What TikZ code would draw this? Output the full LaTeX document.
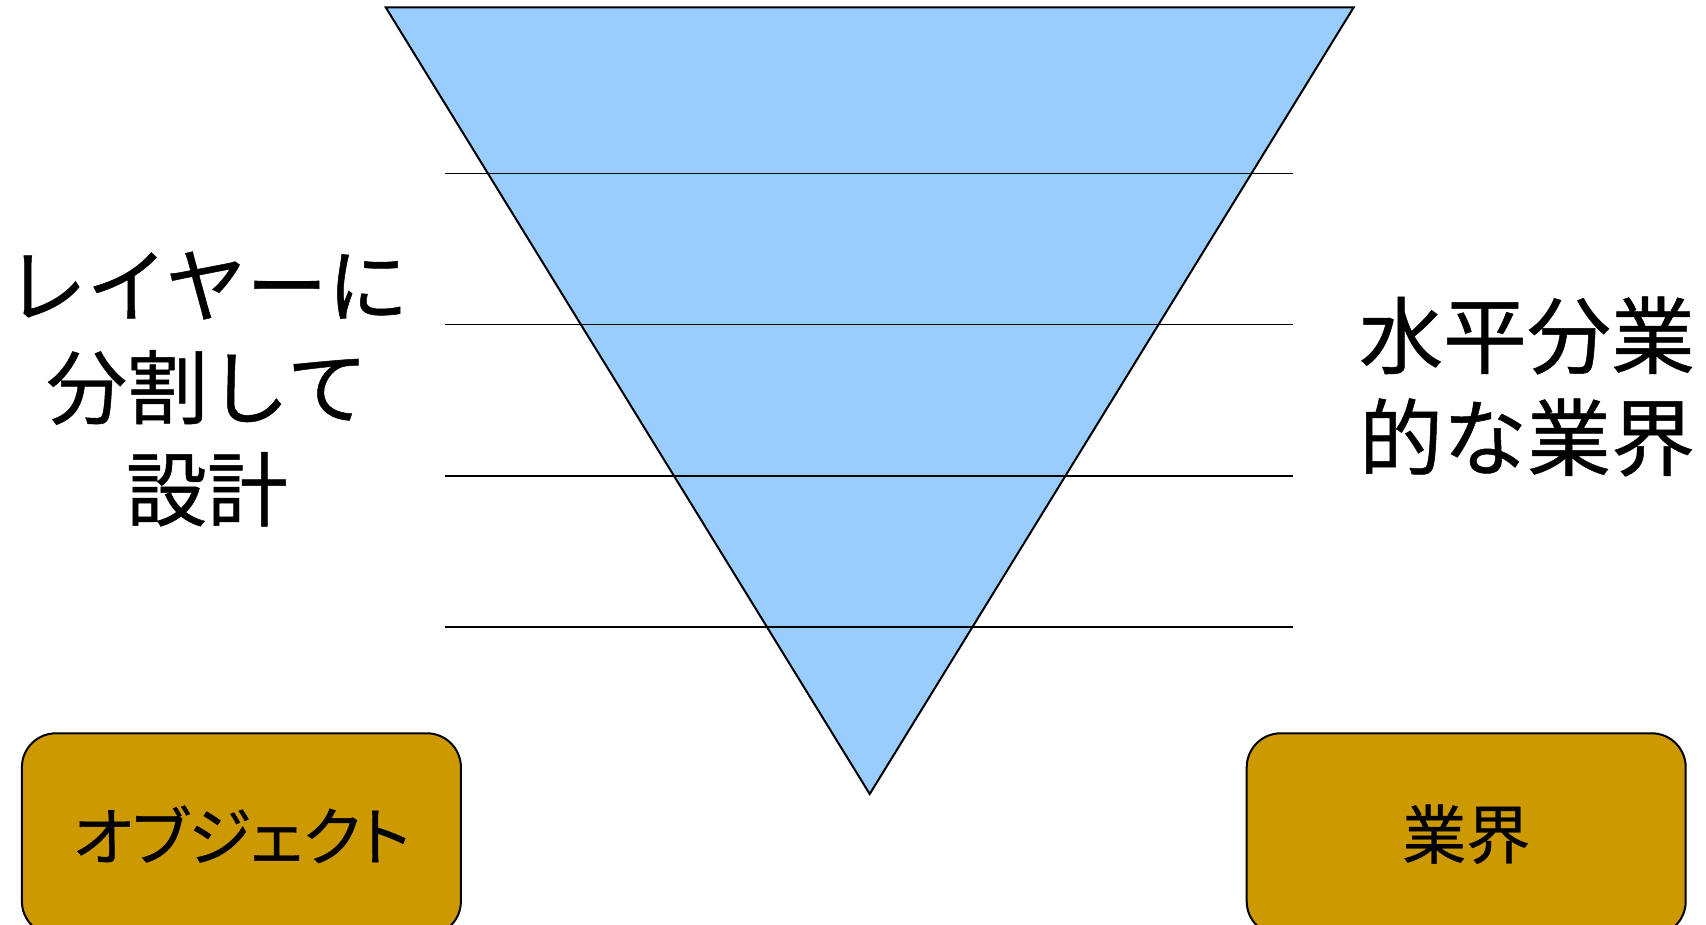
\documentclass[tikz,border=0pt]{standalone}
\usepackage{fontspec}
\newfontfamily\cjk[FakeBold=0.6]{Noto Sans CJK JP}
\newfontfamily\cjkp[FakeBold=0.6,RawFeature=+palt]{Noto Sans CJK JP}
\definecolor{triblue}{HTML}{99CCFF}
\definecolor{boxgold}{HTML}{CC9900}
\begin{document}
\begin{tikzpicture}[x=0.5pt,y=-0.5pt,
  label text/.style={align=center, inner sep=0pt},
  goldbox/.style={draw=black, line width=1pt, fill=boxgold, rounded corners=17pt,
    minimum width=219.5pt, minimum height=101pt, inner sep=0pt,
    font=\cjkp\fontsize{32}{36}\selectfont},
  layerline/.style={draw=black, line width=0.75pt}]
\useasboundingbox (0,0) rectangle (1706,925);
\clip (0,0) rectangle (1706,925);
% funnel
\coordinate (tl) at (385.7,7.3);
\coordinate (tr) at (1353.7,7.3);
\coordinate (apex) at (869.7,794);
\filldraw[fill=triblue, draw=black, line width=1pt, line join=miter] (tl) -- (tr) -- (apex) -- cycle;
% layer lines
\foreach \yy in {173.5,324.7,475.9,627.1}
  \draw[layerline] (445,\yy) -- (1293,\yy);
% side texts
\node[label text, font=\cjk\fontsize{40.5}{51}\selectfont] (lefttext) at (207,389) {レイヤーに\\分割して\\設計};
\node[label text, font=\cjk\fontsize{42}{51}\selectfont] (righttext) at (1527,386.5) {水平分業\\的な業界};
% boxes
\node[goldbox] (objbox) at (241.4,834.3) {オブジェクト};
\node[goldbox] (indbox) at (1466.2,834.3) {業界};
\end{tikzpicture}
\end{document}
